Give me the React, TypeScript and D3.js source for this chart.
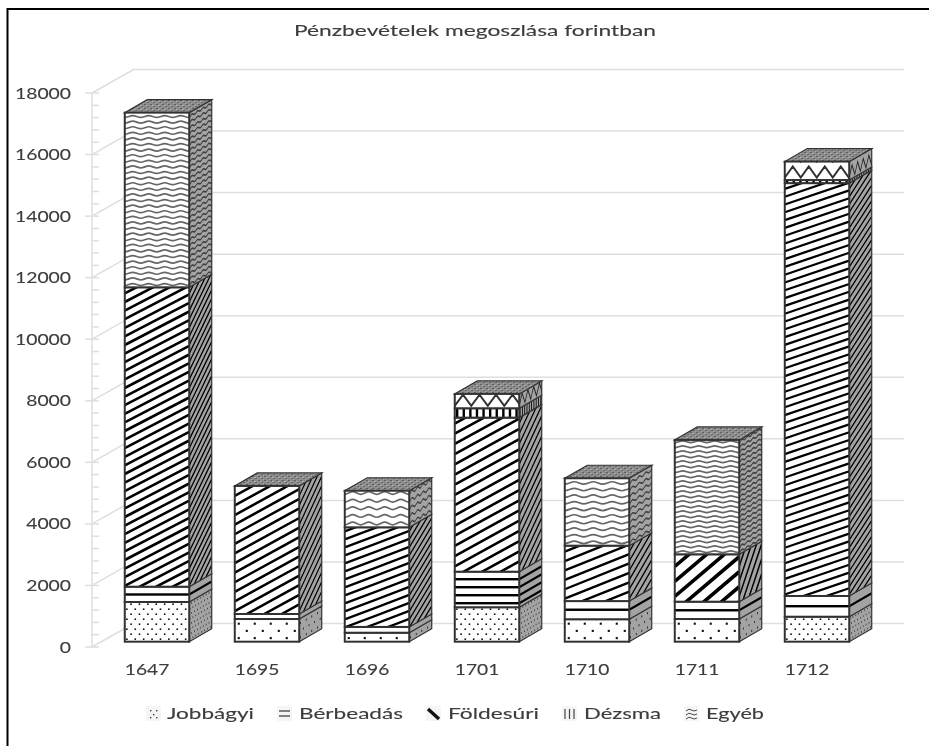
import React from "react";
import * as d3 from "d3";

const title = "Pénzbevételek megoszlása forintban";
const years = ["1647", "1695", "1696", "1701", "1710", "1711", "1712"];
const seriesNames = ["Jobbágyi", "Bérbeadás", "Földesúri", "Dézsma", "Egyéb"];
const jobbagyi = [1290, 737, 292, 1120, 730, 737, 812];
const berbeadas = [497, 163, 188, 1155, 590, 563, 673];
const foldesuri = [9728, 4160, 3237, 5005, 1800, 1540, 13415];
const dezsma = [0, 0, 0, 305, 0, 0, 100];
const egyeb = [5675, 0, 1188, 465, 2190, 3715, 600];
const yTicks = d3.range(0, 18001, 2000);
const yMinorTicks = d3.range(0, 18001, 400);

// hatch sizes differ from bar to bar in the original
const dotSize = [[8.4, 5, 1.6], [16, 7.2, 2.1], [16, 7.2, 2.1], [8.4, 5, 1.6], [16, 7.2, 2.1], [16, 7.2, 2.1], [8.4, 5, 1.6]];
const bandPeriod = [15, 20, 20, 8, 19, 17.5, 21];
const stripeSize = [[8.6, 0.52, 2.6], [9.6, 0.55, 2.5], [8, 0.38, 2.3], [10.2, 0.55, 2.6], [9.4, 0.4, 2.4], [15, 0.85, 3.6], [7.8, 0.34, 2.2]];
const waveSize = [[16, 5.6, 1.4], [16, 6, 1.4], [16, 7.6, 2], [16.5, 16, 5.5], [19, 6.6, 1.8], [16, 5, 1.3], [16, 16, 5.5]];

const legendSwatchX = [146, 277, 426, 562, 684];
const legendTextX = [167, 299, 448, 584, 706];
const legendTextW = [87, 104, 91, 77, 58];

const W = 929;
const H = 746;
const wallDx = 41.5;
const wallDy = -23.5;
const barDx = 22.5;
const barDy = -13;
const barLift = -5.3;
const ink = "#333";
const grid = "#dedede";
const label = "#3c3c3c";
const font = "Lato, 'Open Sans', sans-serif";

const x = d3.scaleBand<string>().domain(years).range([102, 872]).paddingInner(0.414).paddingOuter(0.207);
const y = d3.scaleLinear().domain([0, 18000]).range([647, 93]);

const rows = years.map((yr, i) => ({
  year: yr,
  Jobbágyi: jobbagyi[i],
  Bérbeadás: berbeadas[i],
  Földesúri: foldesuri[i],
  Dézsma: dezsma[i],
  Egyéb: egyeb[i],
}));
const stacked = d3.stack<any>().keys(seriesNames)(rows);

// hatch of one segment, origin at its bottom left corner, y goes up (negative)
function hatch(s: number, i: number, bw: number, h: number) {
  if (s === 0) {
    const [dx, dy, size] = dotSize[i];
    const dots: React.ReactNode[] = [];
    d3.range(dy / 2, h, dy).forEach((yy, r) => {
      d3.range(r % 2 ? dx * 0.75 : dx * 0.25, bw, dx).forEach((xx) => {
        dots.push(<rect key={`${r}-${xx}`} x={xx - size / 2} y={-yy - size / 2} width={size} height={size} fill="#111" />);
      });
    });
    return dots;
  }
  if (s === 1) {
    const p = bandPeriod[i];
    return d3.range(p / 2, h, p).map((yy) => <rect key={yy} x={0} y={-yy - 1.2} width={bw} height={2.4} fill="#000" />);
  }
  if (s === 2) {
    const [p, m, t] = stripeSize[i];
    const d = d3.range(0, h + m * bw + p, p).map((c) => `M0,${-c + m * bw}L${bw},${-c}`).join("");
    return <path d={d} stroke="#000" strokeWidth={t} fill="none" />;
  }
  if (s === 3) {
    return d3.range(1.2, bw, 6.6).map((xx) => <rect key={xx} x={xx} y={-h} width={2.4} height={h} fill="#000" />);
  }
  const [w, p, a] = waveSize[i];
  const big = a > 3;
  // short top segments use a pointed wave, tall ones a soft one
  const line = d3.line<[number, number]>().curve(big ? d3.curveLinear : d3.curveBasis);
  return d3.range(p / 2, h + p, p).map((yy) => {
    const pts = d3.range(-w, bw + w, w / 2).map((xx, k) => [xx, -yy + (k % 2 ? -1 : 1) * (big ? a : a * 2)] as [number, number]);
    return <path key={yy} d={line(pts)!} stroke={big ? "#333" : "#666"} strokeWidth={big ? 2 : 1.7} fill="none" />;
  });
}

function Bars() {
  const bw = x.bandwidth();
  const clips: React.ReactNode[] = [];
  const front: React.ReactNode[] = [];
  const side: React.ReactNode[] = [];
  const a = barDx / bw;
  const b = barDy / bw;

  years.forEach((yr, i) => {
    const x0 = x(yr)!;
    const x1 = x0 + bw;
    stacked.forEach((layer, s) => {
      const [v0, v1] = layer[i];
      if (v1 === v0) return;
      const yb = y(v0) + barLift;
      const yt = y(v1) + barLift;
      const key = `${s}-${i}`;
      const sidePts = `${x1},${yb} ${x1 + barDx},${yb + barDy} ${x1 + barDx},${yt + barDy} ${x1},${yt}`;
      clips.push(
        <clipPath key={`cf${key}`} id={`cf${key}`}><rect x={x0} y={yt} width={bw} height={yb - yt} /></clipPath>,
        <clipPath key={`cs${key}`} id={`cs${key}`}><polygon points={sidePts} /></clipPath>
      );
      side.push(
        <g key={`side${key}`}>
          <polygon points={sidePts} fill="#fff" />
          <g clipPath={`url(#cs${key})`}>
            <g transform={`matrix(${a},${b},0,1,${x1},${yb})`}>{hatch(s, i, bw, yb - yt)}</g>
          </g>
          <polygon points={sidePts} fill="#000" fillOpacity={0.36} stroke={ink} strokeWidth={1.2} />
        </g>
      );
      front.push(
        <g key={`front${key}`}>
          <rect x={x0} y={yt} width={bw} height={yb - yt} fill="#fff" />
          <g clipPath={`url(#cf${key})`}>
            <g transform={`translate(${x0},${yb})`}>{hatch(s, i, bw, yb - yt)}</g>
          </g>
          <rect x={x0} y={yt} width={bw} height={yb - yt} fill="none" stroke={ink} strokeWidth={2} />
        </g>
      );
    });

    const total = stacked[stacked.length - 1][i][1];
    const yt = y(total) + barLift;
    const topPts = `${x0},${yt} ${x1},${yt} ${x1 + barDx},${yt + barDy} ${x0 + barDx},${yt + barDy}`;
    side.push(<polygon key={`top${i}`} points={topPts} fill="url(#topNoise)" stroke={ink} strokeWidth={1.2} />);
  });

  return (
    <>
      <defs>
        {clips}
        <pattern id="topNoise" patternUnits="userSpaceOnUse" width={6} height={4}>
          <rect width={6} height={4} fill="#8c8c8c" />
          <rect x={0} y={0} width={2} height={1} fill="#5e5e5e" />
          <rect x={3} y={2} width={2} height={1} fill="#666" />
          <rect x={2} y={1} width={2} height={1} fill="#b0b0b0" />
          <rect x={5} y={3} width={1} height={1} fill="#a8a8a8" />
        </pattern>
      </defs>
      <g filter="url(#soft)">
        {side}
        {front}
      </g>
    </>
  );
}

function LegendSwatch({ s, px }: { s: number; px: number }) {
  const py = 706;
  const box = 15;
  let mark: React.ReactNode = null;
  if (s === 0) {
    mark = [[4, 4], [10, 4], [7, 8], [4, 11], [10, 11]].map(([a, b], k) => <rect key={k} x={px + a} y={py + b} width={1.4} height={1.4} fill="#444" />);
  } else if (s === 1) {
    mark = [5, 10].map((k) => <line key={k} x1={px + 2} x2={px + 13} y1={py + k} y2={py + k} stroke="#333" strokeWidth={1.2} />);
  } else if (s === 2) {
    mark = <line x1={px + 2} y1={py + 3} x2={px + 13} y2={py + 13} stroke="#111" strokeWidth={3.4} />;
  } else if (s === 3) {
    mark = [3, 7.5, 12].map((k) => <line key={k} x1={px + k} x2={px + k} y1={py + 3} y2={py + 13} stroke="#444" strokeWidth={1.2} />);
  } else {
    mark = [4, 8, 12].map((k) => <path key={k} d={`M${px + 2},${py + k + 1}Q${px + 5},${py + k - 2} ${px + 7.5},${py + k}T${px + 13},${py + k}`} stroke="#444" strokeWidth={1} fill="none" />);
  }
  return (
    <g>
      <rect x={px} y={py} width={box} height={box} fill="#f5f5f5" />
      {mark}
    </g>
  );
}

export default function App() {
  return (
    <svg width={W} height={H} style={{ position: "absolute", left: 0, top: 0, background: "#fff" }} fontFamily={font}>
      <defs>
        <filter id="soft" x="-5%" y="-5%" width="110%" height="110%">
          <feGaussianBlur stdDeviation={0.4} />
        </filter>
        <filter id="softText" x="-5%" y="-20%" width="110%" height="140%">
          <feGaussianBlur stdDeviation={0.3} />
        </filter>
      </defs>

      <path d={`M${W},9H7.5V${H}`} fill="none" stroke="#000" strokeWidth={2} />

      {/* back wall grid and side wall */}
      <g stroke={grid} strokeWidth={1.5} fill="none">
        {yTicks.map((t) => (
          <path key={t} d={`M92,${y(t)}L${92 + wallDx},${y(t) + wallDy}H904`} />
        ))}
        <line x1={92} x2={92} y1={y(0)} y2={y(18000)} />
        {yMinorTicks.map((t) => (
          <line key={t} x1={t % 2000 === 0 ? 85 : 92} x2={99} y1={y(t)} y2={y(t)} />
        ))}
      </g>

      <Bars />

      <g fill={label} stroke={label} strokeWidth={0.12} filter="url(#softText)">
        <text x={294} y={36} fontSize={15} textLength={362} lengthAdjust="spacingAndGlyphs">{title}</text>
        {yTicks.map((t) => {
          const s = String(t);
          return (
            <text key={t} x={71 - s.length * 11.2} y={y(t) + 5.5} fontSize={15.5} textLength={s.length * 11.2} lengthAdjust="spacingAndGlyphs">{s}</text>
          );
        })}
        {years.map((yr) => (
          <text key={yr} x={x(yr)!} y={675} fontSize={15.5} textLength={44.5} lengthAdjust="spacingAndGlyphs">{yr}</text>
        ))}
        {seriesNames.map((n, s) => (
          <text key={n} x={legendTextX[s]} y={719} fontSize={16} textLength={legendTextW[s]} lengthAdjust="spacingAndGlyphs">{n}</text>
        ))}
      </g>
      {seriesNames.map((n, s) => (
        <LegendSwatch key={n} s={s} px={legendSwatchX[s]} />
      ))}
    </svg>
  );
}
